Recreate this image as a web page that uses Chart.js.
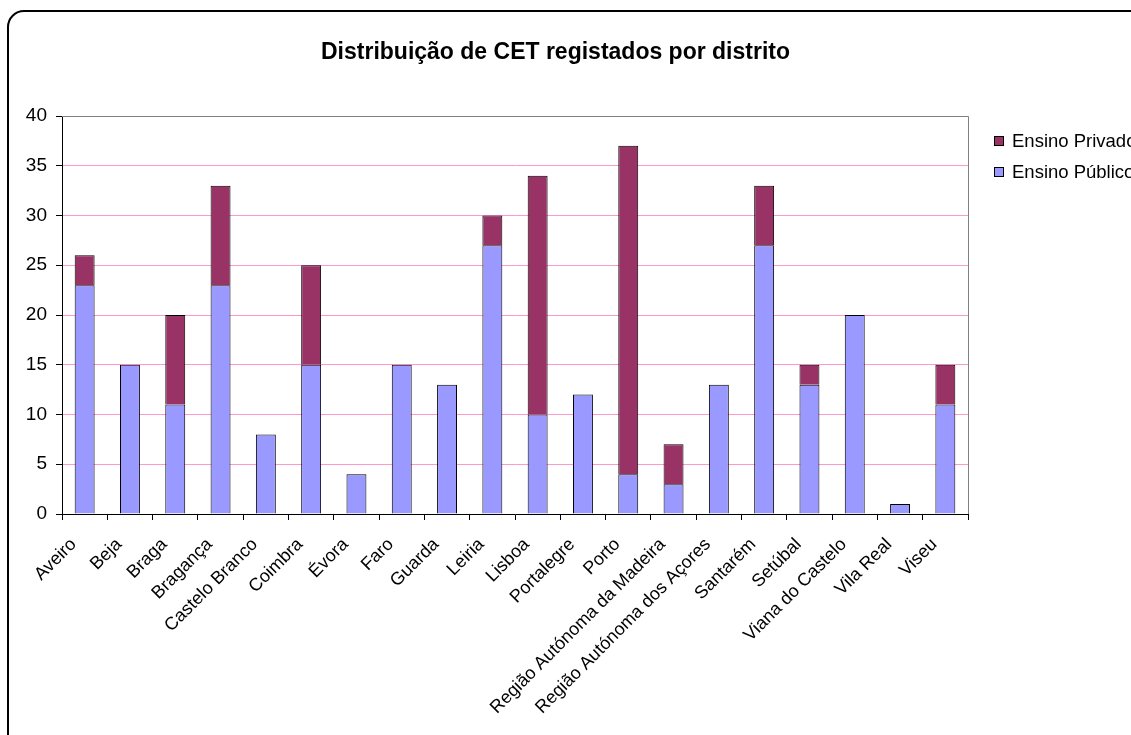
<!DOCTYPE html>
<html>
<head>
  <title>Distribuição de CET registados por distrito</title>
  <style>
    html, body { margin: 0; padding: 0; background: #ffffff; }
    #wrap { position: absolute; left: 0; top: 0; width: 1131px; height: 735px; }
  </style>
  <script src="https://cdn.jsdelivr.net/npm/chart.js"></script>
</head>
<body>
  <div id="wrap"><canvas id="cetChart"></canvas></div>
  <script>
    const districts = ['Aveiro', 'Beja', 'Braga', 'Bragança', 'Castelo Branco', 'Coimbra', 'Évora', 'Faro', 'Guarda', 'Leiria',
      'Lisboa', 'Portalegre', 'Porto', 'Região Autónoma da Madeira', 'Região Autónoma dos Açores', 'Santarém', 'Setúbal',
      'Viana do Castelo', 'Vila Real', 'Viseu'];
    const ensinoPublico = [23, 15, 11, 23, 8, 15, 4, 15, 13, 27, 10, 12, 4, 3, 13, 27, 13, 20, 1, 11];
    const ensinoPrivado = [3, 0, 9, 10, 0, 10, 0, 0, 0, 3, 24, 0, 33, 4, 0, 6, 2, 0, 0, 4];
    const yTicks = [0, 5, 10, 15, 20, 25, 30, 35, 40];

    const FONT = 'Arial, "Liberation Sans", sans-serif';
    const PINK = '#FF99CC';

    // frame, plot border and legend drawn around the chart
    const decorations = {
      id: 'decorations',
      beforeDraw(chart) {
        const ctx = chart.ctx;
        ctx.save();
        ctx.fillStyle = '#ffffff';
        ctx.fillRect(0, 0, chart.width, chart.height);
        ctx.strokeStyle = '#000000';
        ctx.lineWidth = 2;
        ctx.beginPath();
        ctx.roundRect(8, 11, 1140, 740, 16);
        ctx.stroke();
        ctx.restore();
      },
      afterDraw(chart) {
        const ctx = chart.ctx;
        const a = chart.chartArea;
        ctx.save();
        ctx.strokeStyle = '#808080';
        ctx.lineWidth = 1;
        ctx.beginPath();
        ctx.moveTo(a.left, Math.round(a.top) + 0.5);
        ctx.lineTo(Math.round(a.right) + 0.5, Math.round(a.top) + 0.5);
        ctx.lineTo(Math.round(a.right) + 0.5, a.bottom);
        ctx.stroke();

        // legend (reverse order, like the original)
        const items = chart.data.datasets.slice().reverse();
        ctx.font = '18.5px ' + FONT;
        ctx.textBaseline = 'middle';
        items.forEach((ds, i) => {
          const y = 141 + i * 31;
          ctx.fillStyle = ds.backgroundColor;
          ctx.fillRect(994, y - 5, 10, 10);
          ctx.strokeStyle = '#000000';
          ctx.lineWidth = 1;
          ctx.strokeRect(994.5, y - 4.5, 9, 9);
          ctx.fillStyle = '#000000';
          ctx.fillText(ds.label, 1012, y + 1);
        });
        ctx.restore();
      }
    };

    new Chart(document.getElementById('cetChart'), {
      type: 'bar',
      data: {
        labels: districts,
        datasets: [
          {
            label: 'Ensino Público',
            data: ensinoPublico,
            backgroundColor: '#9999FF',
            borderColor: '#000000',
            borderWidth: 1,
            borderSkipped: 'start',
            categoryPercentage: 1,
            barPercentage: 0.44
          },
          {
            label: 'Ensino Privado',
            data: ensinoPrivado,
            backgroundColor: '#993366',
            borderColor: '#000000',
            borderWidth: 1,
            borderSkipped: 'start',
            categoryPercentage: 1,
            barPercentage: 0.44
          }
        ]
      },
      options: {
        responsive: true,
        maintainAspectRatio: false,
        animation: false,
        layout: { padding: { left: 0, right: 20, top: 0, bottom: 0 } },
        plugins: {
          legend: { display: false },
          tooltip: { enabled: false },
          title: {
            display: true,
            text: 'Distribuição de CET registados por distrito',
            color: '#000000',
            font: { family: FONT, size: 23, weight: 'bold' },
            padding: { top: 39, bottom: 49.4 }
          }
        },
        scales: {
          x: {
            stacked: true,
            offset: true,
            grid: {
              offset: true,
              drawOnChartArea: false,
              color: '#000000',
              tickColor: '#000000',
              tickLength: 6
            },
            border: { color: '#000000', width: 1 },
            ticks: {
              color: '#000000',
              font: { family: FONT, size: 18 },
              maxRotation: 45,
              minRotation: 45,
              autoSkip: false,
              padding: 14,
              labelOffset: -11
            },
            afterFit(scale) { scale.height = 221; }
          },
          y: {
            stacked: true,
            min: 0,
            max: 40,
            afterBuildTicks(scale) { scale.ticks = yTicks.map(v => ({ value: v })); },
            grid: {
              color: c => (c.index === yTicks.length - 1 ? '#808080' : PINK),
              tickColor: '#000000',
              tickLength: 6,
              lineWidth: 1
            },
            border: { color: '#000000', width: 1 },
            ticks: {
              color: '#000000',
              font: { family: FONT, size: 19 },
              padding: 9
            },
            afterFit(scale) { scale.width = 62; }
          },
          yRight: {
            position: 'right',
            display: true,
            grid: { display: false },
            border: { display: false },
            ticks: { display: false },
            afterFit(scale) { scale.width = 143; }
          }
        }
      },
      plugins: [decorations]
    });
  </script>
</body>
</html>
